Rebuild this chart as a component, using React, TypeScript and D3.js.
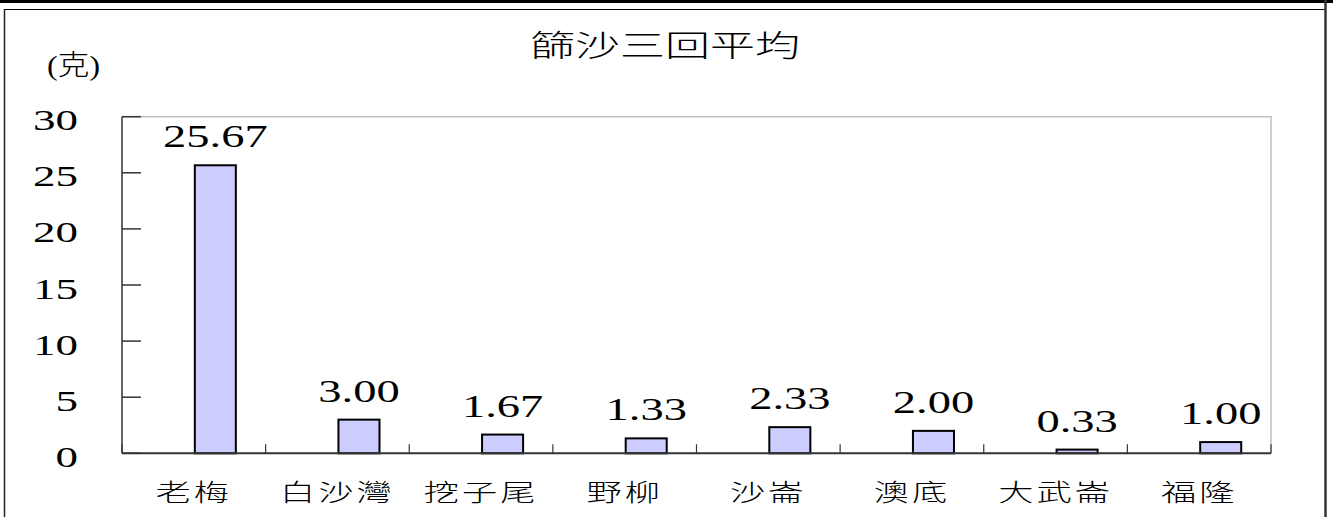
import React from "react";
import * as d3 from "d3";

const categories = ["老梅", "白沙灣", "挖子尾", "野柳", "沙崙", "澳底", "大武崙", "福隆"];
const values = [25.67, 3.0, 1.67, 1.33, 2.33, 2.0, 0.33, 1.0];
const yTicks = [0, 5, 10, 15, 20, 25, 30];
const title = "篩沙三回平均";
const unitLabel = "(克)";

const W = 1333;
const H = 517;
const plot = { left: 122, right: 1271, top: 116.7, bottom: 453.3 };
const SX = 1.5;
const SERIF = "'Liberation Serif', 'DejaVu Serif', serif";
const CJK = "'Noto Sans CJK TC', 'Noto Sans CJK SC', sans-serif";

export default function App() {
  const x = d3.scaleBand<string>().domain(categories).range([plot.left, plot.right]).paddingInner(0).paddingOuter(0);
  const sub = d3.scaleBand<string>().domain(["blank", "avg"]).range([0, x.bandwidth()]).paddingInner(0).paddingOuter(0.75);
  const y = d3.scaleLinear().domain([0, 30]).range([plot.bottom, plot.top]);
  const bw = sub.bandwidth();
  const boundaries = categories.map((c) => x(c) as number).concat([plot.right]);

  return (
    <svg width={W} height={H} style={{ position: "absolute", left: 0, top: 0, background: "#fff" }}>
      {/* outer frame */}
      <rect x={0} y={0} width={W} height={3} fill="#000" />
      <line x1={4} x2={1326} y1={9.5} y2={9.5} stroke="#000" strokeWidth={1} />
      <line x1={4.5} x2={4.5} y1={9} y2={H} stroke="#222" strokeWidth={1.5} />
      <line x1={1325.5} x2={1325.5} y1={0} y2={H} stroke="#333" strokeWidth={2.5} />

      {/* title */}
      <text
        transform={`translate(${665},${56}) scale(${SX},1)`}
        textAnchor="middle"
        fontFamily={CJK}
        fontWeight={300}
        fontSize={30}
        fill="#000"
      >
        {title}
      </text>

      {/* unit */}
      <text x={47} y={75} fontFamily={`'Liberation Serif', ${CJK}`} fontWeight={300} fontSize={28} textLength={53} lengthAdjust="spacingAndGlyphs" fill="#000">
        {unitLabel}
      </text>

      {/* plot border */}
      <polyline
        points={`${plot.left},${plot.top} ${plot.right},${plot.top} ${plot.right},${plot.bottom}`}
        fill="none"
        stroke="#c0c0c0"
        strokeWidth={1.5}
      />

      {/* bars */}
      {categories.map((c, i) => {
        const bx = (x(c) as number) + (sub("avg") as number) + 1;
        const top = y(values[i]);
        return (
          <g key={c}>
            <rect x={bx} y={top} width={bw} height={y(0) - top} fill="#ccccff" stroke="#000" strokeWidth={2} />
            <text
              transform={`translate(${bx + bw / 2},${top - 18}) scale(${SX},1)`}
              textAnchor="middle"
              fontFamily={SERIF}
              fontSize={31}
              fill="#000"
            >
              {values[i].toFixed(2)}
            </text>
          </g>
        );
      })}

      {/* y axis */}
      <line x1={plot.left} x2={plot.left} y1={plot.top} y2={plot.bottom} stroke="#333" strokeWidth={1.5} />
      {yTicks.map((t) => (
        <g key={t}>
          <line x1={plot.left} x2={plot.left + 19} y1={y(t)} y2={y(t)} stroke="#333" strokeWidth={1.5} />
          <text
            transform={`translate(${78},${y(t) + 13.5}) scale(${SX},1)`}
            textAnchor="end"
            fontFamily={SERIF}
            fontSize={30}
            fill="#000"
          >
            {t}
          </text>
        </g>
      ))}

      {/* x axis */}
      <line x1={plot.left} x2={plot.right} y1={plot.bottom} y2={plot.bottom} stroke="#333" strokeWidth={2} />
      {boundaries.map((b, i) => (
        <line key={i} x1={b} x2={b} y1={plot.bottom} y2={plot.bottom - 9} stroke="#333" strokeWidth={1.2} />
      ))}
      {categories.map((c) => (
        <text
          key={c}
          transform={`translate(${(x(c) as number) + x.bandwidth() / 2},${501}) scale(${SX},1)`}
          textAnchor="middle"
          fontFamily={CJK}
          fontWeight={300}
          fontSize={23.5}
          letterSpacing={2}
          fill="#000"
        >
          {c}
        </text>
      ))}
    </svg>
  );
}
